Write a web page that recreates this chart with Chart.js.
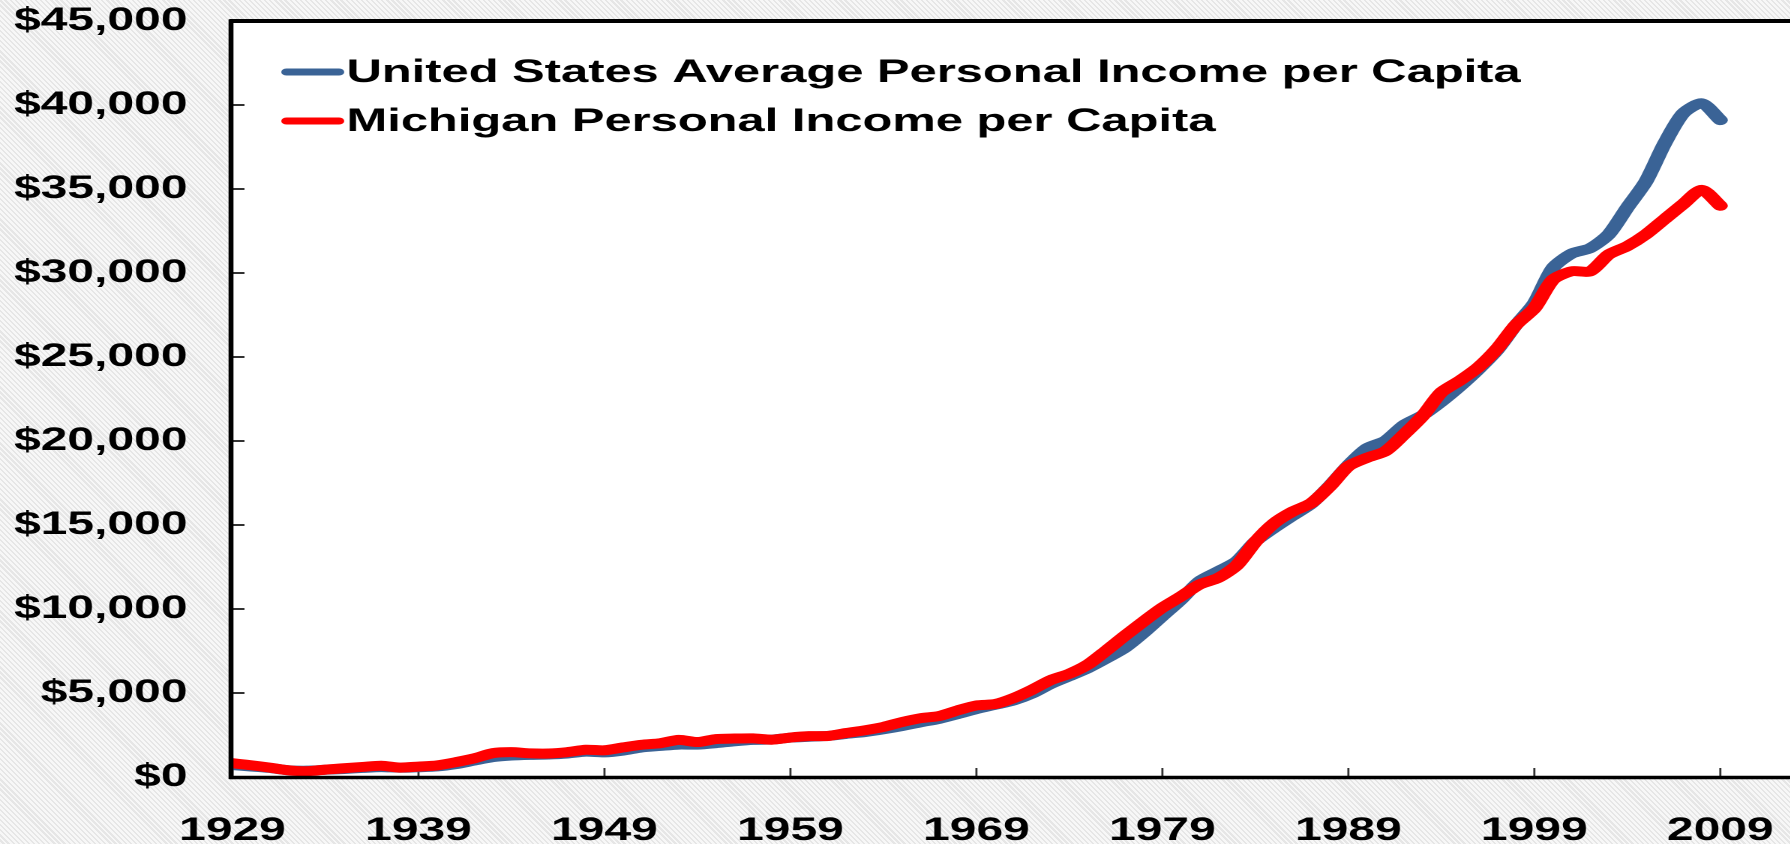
<!DOCTYPE html>
<html>
<head>
<meta charset="utf-8">
<title>Personal Income per Capita</title>
<script src="https://cdn.jsdelivr.net/npm/chart.js@4.4.1/dist/chart.umd.min.js"></script>
<style>
  html, body {
    margin: 0;
    padding: 0;
    width: 1790px;
    height: 844px;
    overflow: hidden;
    background: repeating-linear-gradient(45deg, #f7f7f7 0px, #f7f7f7 2px, #e6e6e6 2px, #e6e6e6 3.6px);
  }
  /* the original picture is stretched sideways, text included */
  #wrap {
    position: absolute;
    left: 0;
    top: 0;
    width: 1194px;
    height: 844px;
    transform: scaleX(1.5);
    transform-origin: 0 0;
  }
</style>
</head>
<body>
<div id="wrap"><canvas id="incomeChart" width="1194" height="844"></canvas></div>
<script>
// ---- data (current dollars) ----
const years = [
  1929, 1930, 1931, 1932, 1933, 1934, 1935, 1936, 1937, 1938,
  1939, 1940, 1941, 1942, 1943, 1944, 1945, 1946, 1947, 1948,
  1949, 1950, 1951, 1952, 1953, 1954, 1955, 1956, 1957, 1958,
  1959, 1960, 1961, 1962, 1963, 1964, 1965, 1966, 1967, 1968,
  1969, 1970, 1971, 1972, 1973, 1974, 1975, 1976, 1977, 1978,
  1979, 1980, 1981, 1982, 1983, 1984, 1985, 1986, 1987, 1988,
  1989, 1990, 1991, 1992, 1993, 1994, 1995, 1996, 1997, 1998,
  1999, 2000, 2001, 2002, 2003, 2004, 2005, 2006, 2007, 2008,
  2009
];

const usIncome = [
  705, 627, 538, 404, 377, 430, 479, 541, 590, 549,
  583, 627, 765, 977, 1181, 1277, 1317, 1336, 1395, 1508,
  1467, 1575, 1762, 1848, 1930, 1927, 2015, 2128, 2211, 2229,
  2341, 2394, 2445, 2567, 2674, 2841, 3033, 3255, 3463, 3748,
  4042, 4297, 4556, 4970, 5541, 6003, 6480, 7064, 7701, 8589,
  9576, 10554, 11658, 12247, 12844, 14016, 14817, 15546, 16260, 17340,
  18563, 19572, 20023, 20960, 21539, 22340, 23255, 24270, 25412, 26893,
  28200, 30300, 31150, 31480, 32300, 33900, 35450, 37700, 39500, 40100,
  39100
];

const miIncome = [
  820, 700, 560, 400, 340, 440, 520, 600, 670, 560,
  620, 690, 880, 1110, 1420, 1480, 1410, 1400, 1480, 1620,
  1590, 1760, 1920, 2010, 2210, 2080, 2260, 2290, 2300, 2220,
  2350, 2430, 2440, 2620, 2780, 2980, 3270, 3500, 3630, 3970,
  4260, 4340, 4700, 5200, 5770, 6150, 6700, 7540, 8420, 9270,
  10080, 10750, 11460, 11850, 12600, 14000, 15100, 15800, 16300, 17300,
  18500, 19000, 19400, 20400, 21500, 22900, 23600, 24400, 25500, 26900,
  27900, 29600, 30100, 30100, 31100, 31600, 32300, 33200, 34100, 34950,
  34000
];

const seriesNames = [
  'United States Average Personal Income per Capita',
  'Michigan Personal Income per Capita'
];
const seriesColors = ['#3a6396', '#ff0000'];

const xTickYears = [1929, 1939, 1949, 1959, 1969, 1979, 1989, 1999, 2009];
const yTickValues = [0, 5000, 10000, 15000, 20000, 25000, 30000, 35000, 40000, 45000];

const FONT = 'Liberation Sans, Arial, Helvetica, sans-serif';

function money(v) {
  return '$' + String(v).replace(/\B(?=(\d{3})+(?!\d))/g, ',');
}

// white plot area, inward tick marks, heavy frame and the legend in the corner
const framePlugin = {
  id: 'frame',
  beforeDraw(chart) {
    const { ctx, chartArea: a } = chart;
    ctx.save();
    ctx.fillStyle = '#ffffff';
    ctx.fillRect(a.left, a.top, a.right - a.left + 5, a.bottom - a.top);
    ctx.restore();
  },
  beforeDatasetsDraw(chart) {
    const { ctx, chartArea: a, scales } = chart;
    ctx.save();
    ctx.strokeStyle = '#333333';
    ctx.lineWidth = 2;
    yTickValues.forEach(v => {
      const y = scales.y.getPixelForValue(v);
      ctx.beginPath();
      ctx.moveTo(a.left, y);
      ctx.lineTo(a.left + 8, y);
      ctx.stroke();
    });
    ctx.lineWidth = 1.4;
    xTickYears.forEach(v => {
      const x = scales.x.getPixelForValue(v);
      ctx.beginPath();
      ctx.moveTo(x, a.bottom);
      ctx.lineTo(x, a.bottom - 9);
      ctx.stroke();
    });
    ctx.restore();
  },
  afterDatasetsDraw(chart) {
    const { ctx, chartArea: a } = chart;
    ctx.save();
    ctx.strokeStyle = '#000000';
    ctx.lineCap = 'square';
    ctx.lineWidth = 4;
    ctx.beginPath();
    ctx.moveTo(a.left, a.top);
    ctx.lineTo(a.right + 5, a.top);
    ctx.stroke();
    ctx.lineWidth = 3.5;
    ctx.beginPath();
    ctx.moveTo(a.left, a.bottom + 0.5);
    ctx.lineTo(a.right + 5, a.bottom + 0.5);
    ctx.stroke();
    ctx.lineWidth = 3.3;
    ctx.beginPath();
    ctx.moveTo(a.left - 1, a.top);
    ctx.lineTo(a.left - 1, a.bottom + 0.5);
    ctx.stroke();

    // legend
    ctx.lineCap = 'round';
    ctx.font = 'bold 32.6px ' + FONT;
    ctx.textBaseline = 'middle';
    ctx.fillStyle = '#000000';
    chart.data.datasets.forEach((ds, i) => {
      const y = a.top + 51 + i * 49;
      ctx.strokeStyle = ds.borderColor;
      ctx.lineWidth = 7;
      ctx.beginPath();
      ctx.moveTo(a.left + 36, y);
      ctx.lineTo(a.left + 71, y);
      ctx.stroke();
      ctx.fillText(ds.label, a.left + 76, y + 1);
    });
    ctx.restore();
  }
};

const tickFont = { family: FONT, size: 32, weight: 'bold' };

new Chart(document.getElementById('incomeChart'), {
  type: 'line',
  data: {
    datasets: [
      {
        label: seriesNames[0],
        data: years.map((yr, i) => ({ x: yr, y: usIncome[i] })),
        borderColor: seriesColors[0],
        order: 1
      },
      {
        label: seriesNames[1],
        data: years.map((yr, i) => ({ x: yr, y: miIncome[i] })),
        borderColor: seriesColors[1],
        order: 0
      }
    ]
  },
  options: {
    responsive: false,
    animation: false,
    devicePixelRatio: 2,
    layout: { padding: { top: 21, right: 0, bottom: 0, left: 0 } },
    elements: {
      point: { radius: 0, hoverRadius: 0 },
      line: { borderWidth: 10, tension: 0.25, borderCapStyle: 'round', borderJoinStyle: 'round', fill: false }
    },
    plugins: {
      legend: { display: false },
      tooltip: { enabled: false }
    },
    scales: {
      x: {
        type: 'linear',
        min: 1929,
        max: 2012.8,
        grid: { display: false, drawTicks: false },
        border: { display: false },
        afterBuildTicks: s => { s.ticks = xTickYears.map(v => ({ value: v })); },
        afterFit: s => {
          s.height = 67;
          s.paddingLeft = 0;
          s.paddingRight = 0;
        },
        ticks: {
          autoSkip: false,
          maxRotation: 0,
          padding: 35,
          color: '#000000',
          font: tickFont,
          callback: v => String(v)
        }
      },
      y: {
        min: 0,
        max: 45000,
        grid: { display: false, drawTicks: false },
        border: { display: false },
        afterBuildTicks: s => { s.ticks = yTickValues.map(v => ({ value: v })); },
        afterFit: s => {
          s.width = 155;
          s.paddingTop = 0;
          s.paddingBottom = 0;
        },
        ticks: {
          padding: 30,
          color: '#000000',
          font: tickFont,
          callback: v => money(v)
        }
      }
    }
  },
  plugins: [framePlugin]
});
</script>
</body>
</html>
